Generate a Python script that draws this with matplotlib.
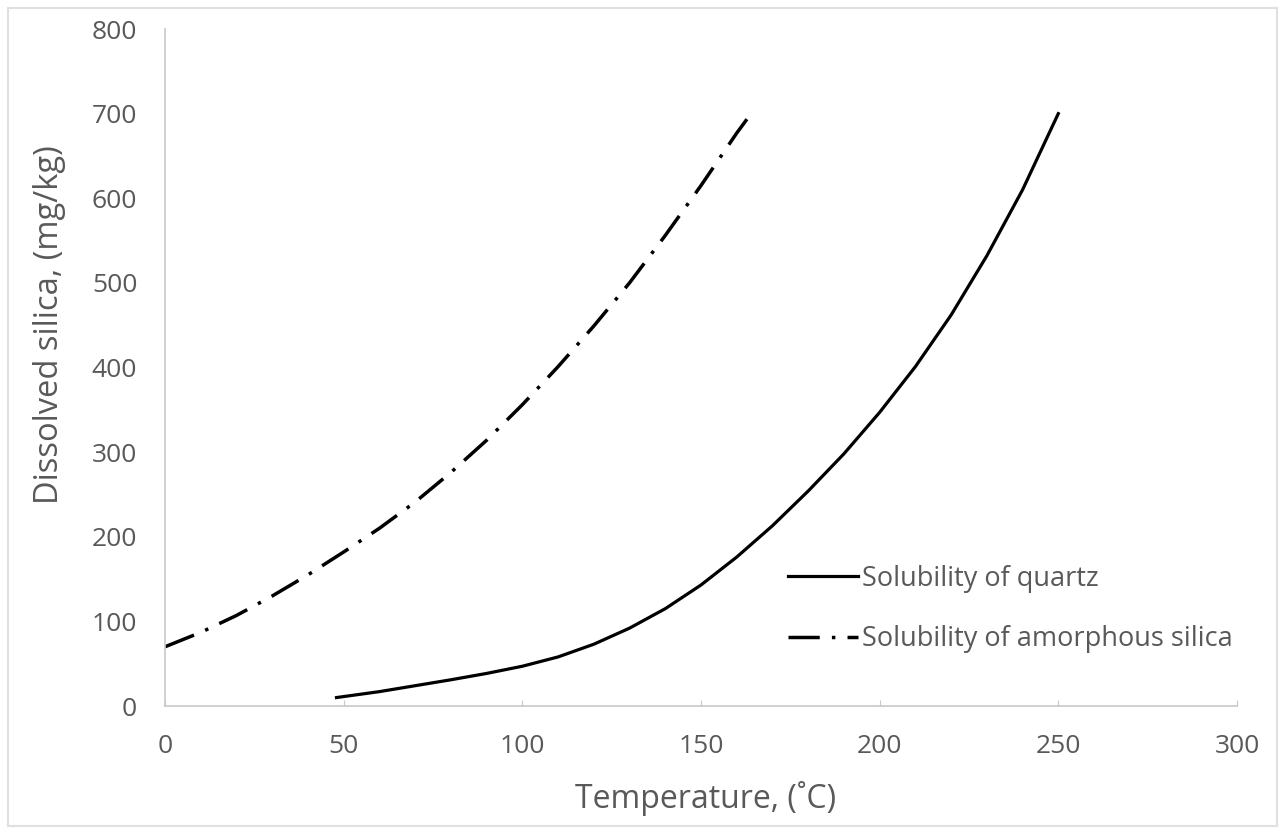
import matplotlib.pyplot as plt
from matplotlib.patches import Rectangle

plt.rcParams['font.family'] = ['Open Sans', 'DejaVu Sans']

# data
quartz_t = [48, 60, 70, 80, 90, 100, 110, 120, 130, 140, 150,
            160, 170, 180, 190, 200, 210, 220, 230, 240, 250]
quartz_v = [10, 17, 24, 31, 38.5, 47, 58, 73, 92, 115, 143,
            176, 213, 254, 298, 347, 401, 462, 532, 610, 700]

amorph_t = [0, 10, 20, 30, 40, 50, 60, 70, 80, 90, 100,
            110, 120, 130, 140, 150, 160, 164]
amorph_v = [70, 87, 107, 130, 155, 182, 210, 241, 276, 314, 356,
            401, 449, 500, 556, 615, 677, 700]

x_ticks = [0, 50, 100, 150, 200, 250, 300]
y_ticks = [0, 100, 200, 300, 400, 500, 600, 700, 800]

grey = '#595959'
axis_grey = '#c8c8c8'

fig = plt.figure(figsize=(12.83, 8.39), dpi=100)
ax = fig.add_axes([0.1286, 0.1585, 0.8355, 0.8069])

ax.plot(quartz_t, quartz_v, color='black', lw=2.3,
        solid_joinstyle='round', label='Solubility of quartz')
ax.plot(amorph_t, amorph_v, color='black', lw=2.5,
        linestyle=(0, (9, 3.5, 1, 3.5)),
        label='Solubility of amorphous silica')

ax.set_xlim(0, 300)
ax.set_ylim(0, 800)
ax.set_xticks(x_ticks)
ax.set_yticks(y_ticks)

for side in ['top', 'right']:
    ax.spines[side].set_visible(False)
for side in ['left', 'bottom']:
    ax.spines[side].set_color(axis_grey)
    ax.spines[side].set_linewidth(1.2)

ax.tick_params(axis='x', direction='in', length=4, color=axis_grey,
               labelcolor=grey, labelsize=19, pad=20)
ax.tick_params(axis='y', length=0, labelcolor=grey, labelsize=19, pad=20)

ax.set_xlabel('Temperature, (\u02daC)', color=grey, fontsize=23, va='center')
ax.set_ylabel('Dissolved silica, (mg/kg)', color=grey, fontsize=23.5, va='center')
ax.xaxis.set_label_coords(0.504, -0.136)
ax.yaxis.set_label_coords(-0.108, 0.563)

leg = ax.legend(loc='center left', bbox_to_anchor=(788 / 1283, 1 - 609 / 839),
                bbox_transform=fig.transFigure, frameon=False, fontsize=19.5,
                handlelength=2.6, handletextpad=0.15, labelspacing=1.2,
                borderpad=0, borderaxespad=0)
for t in leg.get_texts():
    t.set_color(grey)

# faint chart-area border
fig.patches.append(Rectangle((8 / 1283, 13 / 839), 1269 / 1283, 818 / 839,
                             transform=fig.transFigure, fill=False,
                             edgecolor='#e0e0e0', linewidth=1.5))

fig.savefig('out.png', dpi=100)
